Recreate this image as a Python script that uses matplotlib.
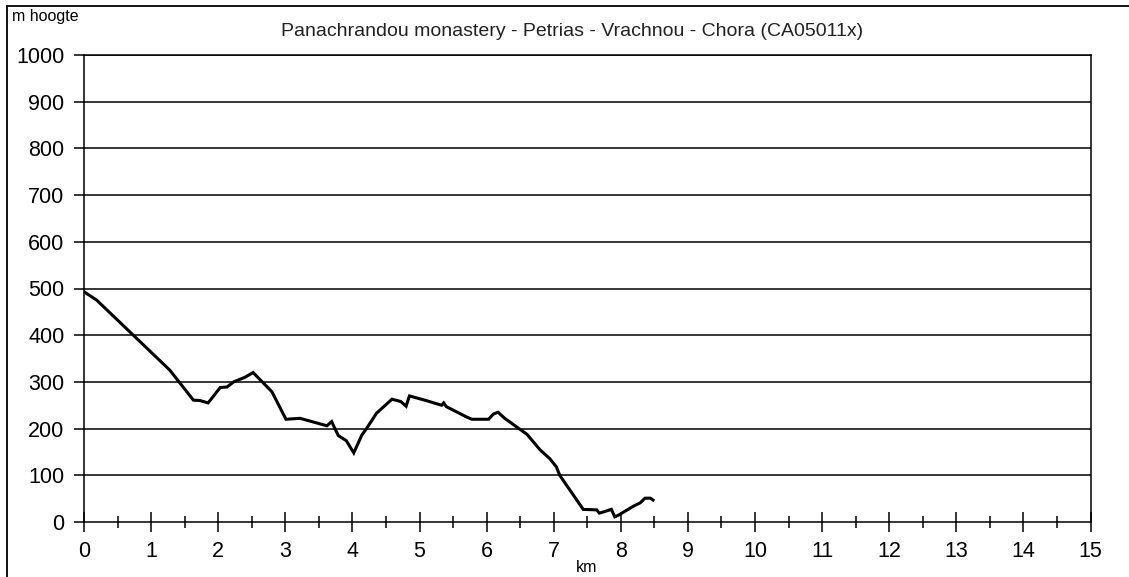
import matplotlib
matplotlib.use("Agg")
import matplotlib.pyplot as plt
from matplotlib.lines import Line2D
from matplotlib.ticker import MultipleLocator

plt.rcParams['font.family'] = ['Liberation Sans', 'DejaVu Sans']

title = "Panachrandou monastery - Petrias - Vrachnou - Chora (CA05011x)"
y_label = "m hoogte"
x_label = "km"

km = [0.00, 0.19, 1.28, 1.63, 1.73, 1.85, 2.03, 2.13, 2.23, 2.40, 2.52, 2.80,
      3.01, 3.22, 3.32, 3.62, 3.69, 3.79, 3.91, 4.02, 4.14, 4.21, 4.36, 4.59,
      4.72, 4.80, 4.85, 5.10, 5.33, 5.36, 5.40, 5.70, 5.78, 6.03, 6.10, 6.17,
      6.27, 6.55, 6.60, 6.80, 6.94, 7.04, 7.09, 7.44, 7.64, 7.68, 7.75, 7.86,
      7.91, 7.97, 8.19, 8.29, 8.36, 8.44, 8.48]
hoogte = [493, 475, 325, 261, 260, 255, 288, 289, 300, 310, 320, 279,
          220, 222, 218, 206, 215, 185, 174, 148, 186, 200, 233, 263,
          258, 248, 270, 260, 250, 255, 247, 225, 220, 220, 231, 235,
          222, 193, 188, 154, 136, 118, 100, 27, 26, 19, 22, 27,
          11, 15, 34, 41, 51, 51, 47]

x_ticks = list(range(0, 16))
y_ticks = list(range(0, 1001, 100))

fig = plt.figure(figsize=(11.29, 5.77), dpi=100)
ax = fig.add_axes([84/1129, 1 - 522/577, (1090.5 - 84)/1129, (522 - 55)/577])

ax.plot(km, hoogte, color='black', lw=2.2, solid_joinstyle='miter', zorder=3)

ax.set_xlim(0, 15)
ax.set_ylim(0, 1000)
ax.set_xticks(x_ticks)
ax.set_yticks(y_ticks)
ax.xaxis.set_minor_locator(MultipleLocator(0.5))
for y in y_ticks[1:]:
    ax.axhline(y, color='black', lw=1.1, zorder=1)

for s in ax.spines.values():
    s.set_linewidth(1.1)
    s.set_color('black')

ax.tick_params(axis='y', direction='out', length=7, width=1.1, pad=7,
               labelsize=15.5, colors='black')
ax.tick_params(axis='x', which='major', direction='inout', length=14, width=1.1,
               pad=7, labelsize=15.5)
ax.tick_params(axis='x', which='minor', direction='inout', length=9, width=1.1)

fig.text(572/1129, 1 - 32/577, title, ha='center', va='center', fontsize=14,
         color='#222222')
fig.text(12/1129, 1 - 17/577, y_label, ha='left', va='center', fontsize=11.5)
fig.text(587/1129, 1 - 568/577, x_label, ha='center', va='center', fontsize=11.5)

# outer frame (cropped screenshot border)
fig.add_artist(Line2D([7/1129, 7/1129], [0, 1 - 6/577], color='black', lw=1.3,
                      transform=fig.transFigure))
fig.add_artist(Line2D([7/1129, 1], [1 - 6/577, 1 - 6/577], color='black', lw=1.3,
                      transform=fig.transFigure))

fig.savefig("out.png", dpi=100, facecolor='white')
